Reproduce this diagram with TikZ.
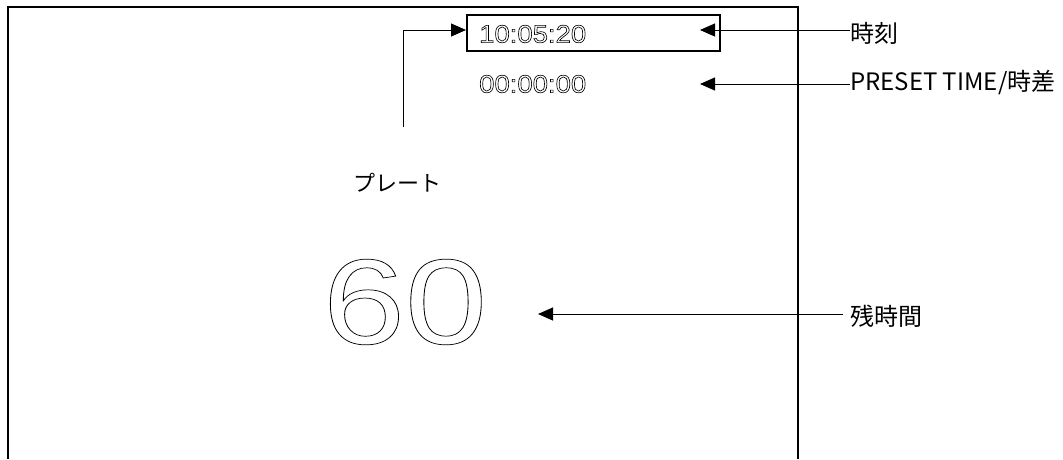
\documentclass[tikz,border=0pt]{standalone}
\usepackage{fontspec}
\setmainfont{Liberation Sans}
\newfontfamily\jpfont{Noto Sans CJK JP}
\usetikzlibrary{arrows.meta}
\newcommand{\hollowtext}[2][0.4]{\special{pdf:literal 1 Tr #1 w}#2\special{pdf:literal 0 Tr}}
\tikzset{
  frameline/.style={line width=2pt},
  conn/.style={line width=1pt,-{Triangle[length=15pt,width=13pt]}},
  lbl/.style={font=\jpfont\fontsize{24}{26}\selectfont,inner sep=0pt,anchor=west},
  digits/.style={font=\fontsize{25}{28}\selectfont,inner sep=0pt,anchor=west},
}
\begin{document}
\begin{tikzpicture}[x=1pt,y=-1pt]
\useasboundingbox (0,0) rectangle (1063,459);
\fill[white] (0,0) rectangle (1063,459);
% frame
\draw[frameline] (8,459) -- (8,7) -- (798,7) -- (798,459);
% clock box
\node[draw,line width=1.5pt,minimum width=253pt,minimum height=36pt,inner sep=0pt] (clockbox) at (593.5,33) {};
\node[digits] (clock) at (479,34) {\scalebox{1.1}[1]{\hollowtext[0.6]{10:05:20}}};
\node[digits] (preset) at (479,84) {\scalebox{1.1}[1]{\hollowtext[0.6]{00:00:00}}};
\node[font=\fontsize{121}{121}\selectfont,inner sep=0pt] (remain) at (405,302) {\scalebox{1.22}[1]{\hollowtext[0.7]{60}}};
\node[lbl,anchor=center,font=\jpfont\fontsize{22}{24}\selectfont] (plate) at (397,183) {プレート};
% labels
\node[lbl] (lclock) at (850,33) {時刻};
\node[lbl] (lpreset) at (850,83) {PRESET TIME/時差};
\node[lbl] (lremain) at (850,316) {残時間};
% connectors
\coordinate (tclock) at (700,30);
\coordinate (tpreset) at (700,84);
\coordinate (tremain) at (538,314);
\coordinate (pbot) at (403,127);
\coordinate (pcorner) at (403,30);
\coordinate (tplate) at (466,30);
\draw[conn] (lclock.west |- tclock) -- (tclock);
\draw[conn] (lpreset.west |- tpreset) -- (tpreset);
\draw[conn] (lremain.west |- tremain) ++(-7,0) -- (tremain);
\draw[conn] (pbot) -- (pcorner) -- (tplate);
\end{tikzpicture}
\end{document}
